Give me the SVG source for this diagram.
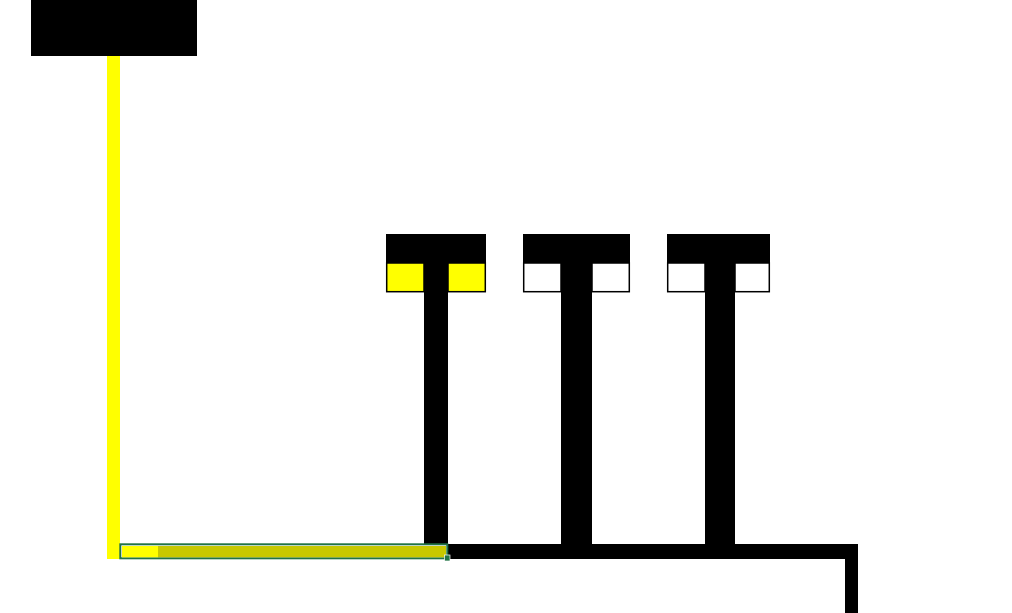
<svg xmlns="http://www.w3.org/2000/svg" width="1012" height="613" viewBox="0 0 1012 613">
<style>
.blk{fill:#000}
.slot{stroke:#000;stroke-width:1.5}
.y{fill:#ffff00}
.w{fill:#fff}
</style>
<rect width="1012" height="613" fill="#fff"/>
<g id="connectors">
<rect class="y" x="107" y="55" width="13" height="504"/>
<rect class="blk" x="424" y="262" width="24" height="284"/>
<rect class="blk" x="561" y="262" width="31" height="284"/>
<rect class="blk" x="705" y="262" width="30" height="284"/>
<path class="blk" d="M446 544H858V613H845V559H446Z"/>
</g>
<g id="source">
<rect class="blk" x="31" y="0" width="166" height="56"/>
</g>
<g id="t1">
<rect class="blk" x="386" y="234" width="100" height="29"/>
<rect class="slot y" x="386.7" y="263" width="37.3" height="28.7"/>
<rect class="slot y" x="448" y="263" width="37.3" height="28.7"/>
</g>
<g id="t2">
<rect class="blk" x="523" y="234" width="107" height="29"/>
<rect class="slot w" x="523.7" y="263" width="37.3" height="28.7"/>
<rect class="slot w" x="592" y="263" width="37.3" height="28.7"/>
</g>
<g id="t3">
<rect class="blk" x="667" y="234" width="103" height="29"/>
<rect class="slot w" x="667.7" y="263" width="37.3" height="28.7"/>
<rect class="slot w" x="735" y="263" width="34.3" height="28.7"/>
</g>
<g id="selection">
<rect x="120.3" y="544.3" width="327" height="14" fill="#fff" stroke="#217346" stroke-width="2"/>
<rect x="122" y="546" width="36" height="11.3" fill="#ffff00"/>
<rect x="158" y="546" width="288" height="11.3" fill="#c8c800"/>
<rect x="444.5" y="555" width="5.5" height="6" fill="#217346" stroke="#fff" stroke-width="0.7"/>
</g>
</svg>
